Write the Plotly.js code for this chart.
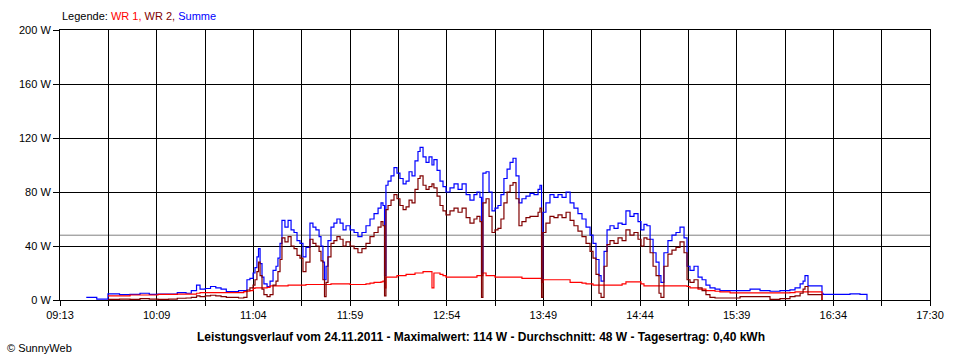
<!DOCTYPE html>
<html>
<head>
<meta charset="utf-8">
<script src="https://cdn.plot.ly/plotly-3.0.1.min.js"></script>
<style>html,body{margin:0;padding:0;background:#fff;}#chart{width:960px;height:360px;}</style>
</head>
<body>
<div id="chart"></div>
<script>
// time of each reading, minutes after midnight (24.11.2011)
const tMin = [
  568, 574, 580.4, 587, 593, 598.7, 604, 609, 615, 620,
  625, 628, 631, 633, 636, 639, 642, 645, 648, 652,
  655, 658, 659.8, 661.5, 663.3, 664.4, 665.5, 666.4, 667.3, 668.4,
  669.5, 671.3, 673, 674.7, 676.4, 677.5, 678.7, 679.8, 681.5, 683.3,
  685, 686.7, 688.4, 690.1, 691.8, 693.5, 695.8, 697.5, 699.2, 701,
  702.1, 703.2, 704.1, 705, 706.1, 707.8, 709.5, 711.2, 713, 714.7,
  716.4, 718.7, 721, 723.2, 725.5, 727.8, 730.1, 732.4, 734.7, 736.4,
  737.5, 738.4, 739.2, 740.4, 742.1, 743.8, 745.5, 747.2, 749, 750.7,
  752.4, 754.1, 755.8, 757.5, 758.7, 760.4, 762.1, 763.8, 765.5, 766.6,
  768.4, 770.1, 771.8, 773.5, 775.8, 778.1, 780.4, 782.7, 785, 787.2,
  789.5, 791.2, 792.9, 793.8, 794.6, 796.4, 798.1, 799.8, 801.5, 803.2,
  804.9, 806.6, 808.4, 810.1, 811.8, 813.5, 815.2, 816.9, 819.2, 821.5,
  823.8, 826.1, 827.2, 828.1, 828.9, 830.6, 832.9, 835.2, 837.5, 839.8,
  842.1, 844.4, 846.6, 848.9, 851.2, 853.5, 855.8, 857.5, 859.2, 860.9,
  862.1, 863.8, 865.5, 867.2, 869.5, 871.8, 874.1, 876.3, 878.6, 880.9,
  883.2, 884.9, 886.6, 888.3, 890.1, 891.8, 893.5, 895.2, 896.3, 898,
  900.3, 902.6, 904.9, 907.2, 909.5, 911.2, 912.9, 915.2, 917.5, 919.8,
  922, 924.3, 927.2, 930, 935.8, 941.5, 947.2, 952.9, 958.6, 964.3,
  970, 972.9, 975.8, 977.5, 978.6, 980.3, 984.9, 988.3, 988.9, 1004.3,
  1010, 1013.4, 1014
];

// Summe (W)
const summe = [
  2, 0.7, 4.5, 4, 4.2, 5, 4.2, 4.4, 4.4, 5.4,
  5, 7, 11, 8, 8.5, 10, 9, 8, 6.2, 6.2,
  7, 7, 15, 16, 20, 24, 32, 38, 27, 17,
  12, 10, 14, 22, 25, 31, 42, 59, 54, 59,
  52, 50, 44, 42, 32, 39, 57, 54, 52, 47,
  40, 28, 15, 25, 44, 54, 57, 60, 57, 52,
  55, 52, 50, 47, 50, 55, 60, 64, 68, 72,
  70, 18, 85, 88, 92, 98, 94, 90, 86, 88,
  95, 92, 103, 110, 113, 106, 102, 106, 100, 104,
  96, 88, 84, 80, 83, 86, 82, 86, 78, 74,
  78, 80, 76, 20, 94, 95, 80, 66, 68, 70,
  78, 90, 97, 102, 105, 92, 72, 75, 77, 79,
  78, 82, 85, 14, 65, 72, 78, 76, 78, 76,
  80, 72, 68, 64, 60, 54, 48, 42, 30, 18,
  14, 36, 52, 55, 53, 57, 56, 66, 62, 64,
  58, 52, 56, 55, 45, 35, 28, 18, 13, 35,
  44, 48, 50, 54, 46, 25, 22, 25, 17, 15,
  11, 9, 8, 7, 7, 7, 8, 7, 6.5, 7,
  7.5, 9, 12, 14, 18, 10.5, 10.5, 5, 4.2, 4.5,
  4.2, 4.2, 0
];

// WR 1 (W)
const wr1 = [
  null, null, 3, 3, 3.7, 3.7, 3.7, 4.2, 4.2, 4.4,
  4.4, 4.4, 5, 5.4, 5.4, 5.4, 5.4, 5.4, 5.4, 5.4,
  5.4, 6.2, 6.5, 7, 8.6, 9, 9, 9, 9, 9,
  9, 9.4, 10.4, 10.4, 10.4, 10.4, 10.4, 10.4, 10.4, 11,
  11, 11, 11, 11, 11, 11.5, 11.5, 11.5, 11.5, 11.5,
  11.5, 11.5, 11.5, 11.5, 11.5, 12, 12, 12, 12, 12,
  12, 11.5, 11.5, 11.5, 11.5, 12, 12.5, 13, 13, 13.4,
  14, 9, 17, 17, 17, 17, 18, 18, 18, 19,
  19, 19, 20, 20, 20, 21, 21, 21, 9, 20,
  20, 19, 18, 17, 17, 17, 17, 17, 17, 17,
  17, 18, 18, 18, 20, 18, 18, 18, 17, 17,
  17, 17, 17, 17, 17, 17, 17, 16, 16, 16,
  16, 16, 16, 13, 15, 15, 15, 15, 15, 15,
  15, 13, 13, 13, 12.5, 12, 12, 11, 11, 11,
  11, 11, 11, 11, 11, 11, 12, 13.5, 13.5, 13.5,
  13.5, 12, 10.5, 10.5, 10.5, 10.5, 10.5, 10.5, 10.5, 10.5,
  10.5, 10.5, 10.5, 10.5, 10.5, 10, 9, 9, 8, 8,
  7, 7, 6.5, 6, 5.3, 5.3, 5.3, 5.3, 5.3, 5.3,
  5.5, 6, 6, 6, 6, 6, 6, 0, null, null,
  null, null, null
];

// WR 2 (W)
const wr2 = [
  null, null, 0.5, 0.7, 0.5, 1, 0.7, 0.5, 0.7, 1.3,
  1.5, 2, 3, 2.5, 3, 3.5, 3, 2.5, 2, 2,
  1.5, 2, 7.4, 9, 11, 15, 21, 28, 18, 8,
  4, 2.5, 4, 11, 14, 21, 30, 46, 43, 47,
  40, 38, 33, 31, 21, 28, 45, 42, 40, 36,
  29, 15, 2.5, 13, 32, 42, 44, 47, 45, 40,
  43, 40, 38, 35, 38, 42, 47, 50, 54, 58,
  55, 3, 67, 70, 74, 78, 75, 70, 67, 69,
  74, 72, 82, 90, 92, 85, 82, 84, 86, 83,
  77, 70, 66, 63, 66, 68, 65, 68, 61, 57,
  60, 62, 58, 2, 72, 75, 62, 50, 52, 53,
  60, 72, 80, 85, 87, 75, 55, 58, 61, 62,
  62, 65, 68, 2, 50, 57, 62, 61, 63, 61,
  65, 59, 55, 51, 47, 42, 36, 31, 19, 5,
  2, 25, 41, 44, 42, 46, 44, 52, 48, 50,
  45, 40, 46, 45, 35, 25, 18, 5, 2, 25,
  34, 37, 39, 43, 35, 15, 13, 15, 9, 7,
  4, 2, 1.5, 1.5, 1.5, 2.5, 2.5, 2.5, 0.5, 1,
  2.5, 3, 5, 8, 10, 4, 4, 0, null, null,
  null, null, null
];

const xTickLabels = ['09:13', '10:09', '11:04', '11:59', '12:54', '13:49', '14:44', '15:39', '16:34', '17:30'];
const xStartMin = 553;   // 09:13
const xEndMin = 1050;    // 17:30
const yTickValues = [0, 40, 80, 120, 160, 200];
const yTickLabels = ['0 W', '40 W', '80 W', '120 W', '160 W', '200 W'];
const durchschnitt = 48;
const titleText = 'Leistungsverlauf vom 24.11.2011 - Maximalwert: 114 W - Durchschnitt: 48 W - Tagesertrag: 0,40 kWh';

// grid every half label interval, labels on every second line
const nLines = (xTickLabels.length - 1) * 2;
const step = (xEndMin - xStartMin) / nLines;
const tickvals = [], ticktext = [];
for (let i = 0; i <= nLines; i++) {
  tickvals.push(xStartMin + i * step);
  ticktext.push(i % 2 === 0 ? xTickLabels[i / 2] : '');
}

const FONT = 'Liberation Sans, Arial, sans-serif';

const traces = [
  {x: tMin, y: summe, type: 'scatter', mode: 'lines', name: 'Summe',
   line: {color: '#0000ff', width: 1.2, shape: 'hv'}, connectgaps: false},
  {x: tMin, y: wr1, type: 'scatter', mode: 'lines', name: 'WR 1',
   line: {color: '#ff0000', width: 1.2, shape: 'hv'}, connectgaps: false},
  {x: tMin, y: wr2, type: 'scatter', mode: 'lines', name: 'WR 2',
   line: {color: '#800000', width: 1.2, shape: 'hv'}, connectgaps: false}
];

const layout = {
  width: 960, height: 360,
  margin: {l: 60, r: 30, t: 30, b: 60, pad: 0},
  paper_bgcolor: '#ffffff', plot_bgcolor: '#ffffff',
  showlegend: false,
  font: {family: FONT, size: 11, color: '#000'},
  xaxis: {
    range: [xStartMin, xEndMin], tickmode: 'array', tickvals: tickvals, ticktext: ticktext,
    ticks: 'outside', ticklen: 5, tickcolor: '#000', tickwidth: 1,
    showgrid: true, gridcolor: '#000', gridwidth: 1,
    showline: true, linecolor: '#000', linewidth: 1, mirror: true,
    zeroline: false, tickfont: {family: FONT, size: 11, color: '#000'}, fixedrange: true
  },
  yaxis: {
    range: [0, 200], tickmode: 'array', tickvals: yTickValues, ticktext: yTickLabels,
    ticks: 'outside', ticklen: 6, tickcolor: '#000', tickwidth: 1,
    showgrid: true, gridcolor: '#000', gridwidth: 1,
    showline: true, linecolor: '#000', linewidth: 1, mirror: true,
    zeroline: false, tickfont: {family: FONT, size: 11, color: '#000'}, fixedrange: true
  },
  shapes: [
    {type: 'line', xref: 'paper', x0: 0, x1: 1, yref: 'y', y0: durchschnitt, y1: durchschnitt,
     line: {color: '#808080', width: 1}, layer: 'between'}
  ],
  annotations: [
    {xref: 'paper', yref: 'paper', x: 0, y: 1.05, xanchor: 'left', yanchor: 'middle', showarrow: false,
     text: 'Legende: <span style="color:#ff0000">WR 1,</span> <span style="color:#800000">WR 2,</span> <span style="color:#0000ff">Summe</span>',
     font: {family: FONT, size: 11, color: '#000'}},
    {xref: 'paper', yref: 'paper', x: 0.484, y: -0.137, xanchor: 'center', yanchor: 'middle', showarrow: false,
     text: '<b>' + titleText + '</b>', font: {family: FONT, size: 12, color: '#000'}},
    {xref: 'paper', yref: 'paper', x: -0.0632, y: -0.178, xanchor: 'left', yanchor: 'middle', showarrow: false,
     text: '© SunnyWeb', font: {family: FONT, size: 11, color: '#000'}}
  ]
};

Plotly.newPlot('chart', traces, layout, {staticPlot: true, displayModeBar: false});
</script>
</body>
</html>
